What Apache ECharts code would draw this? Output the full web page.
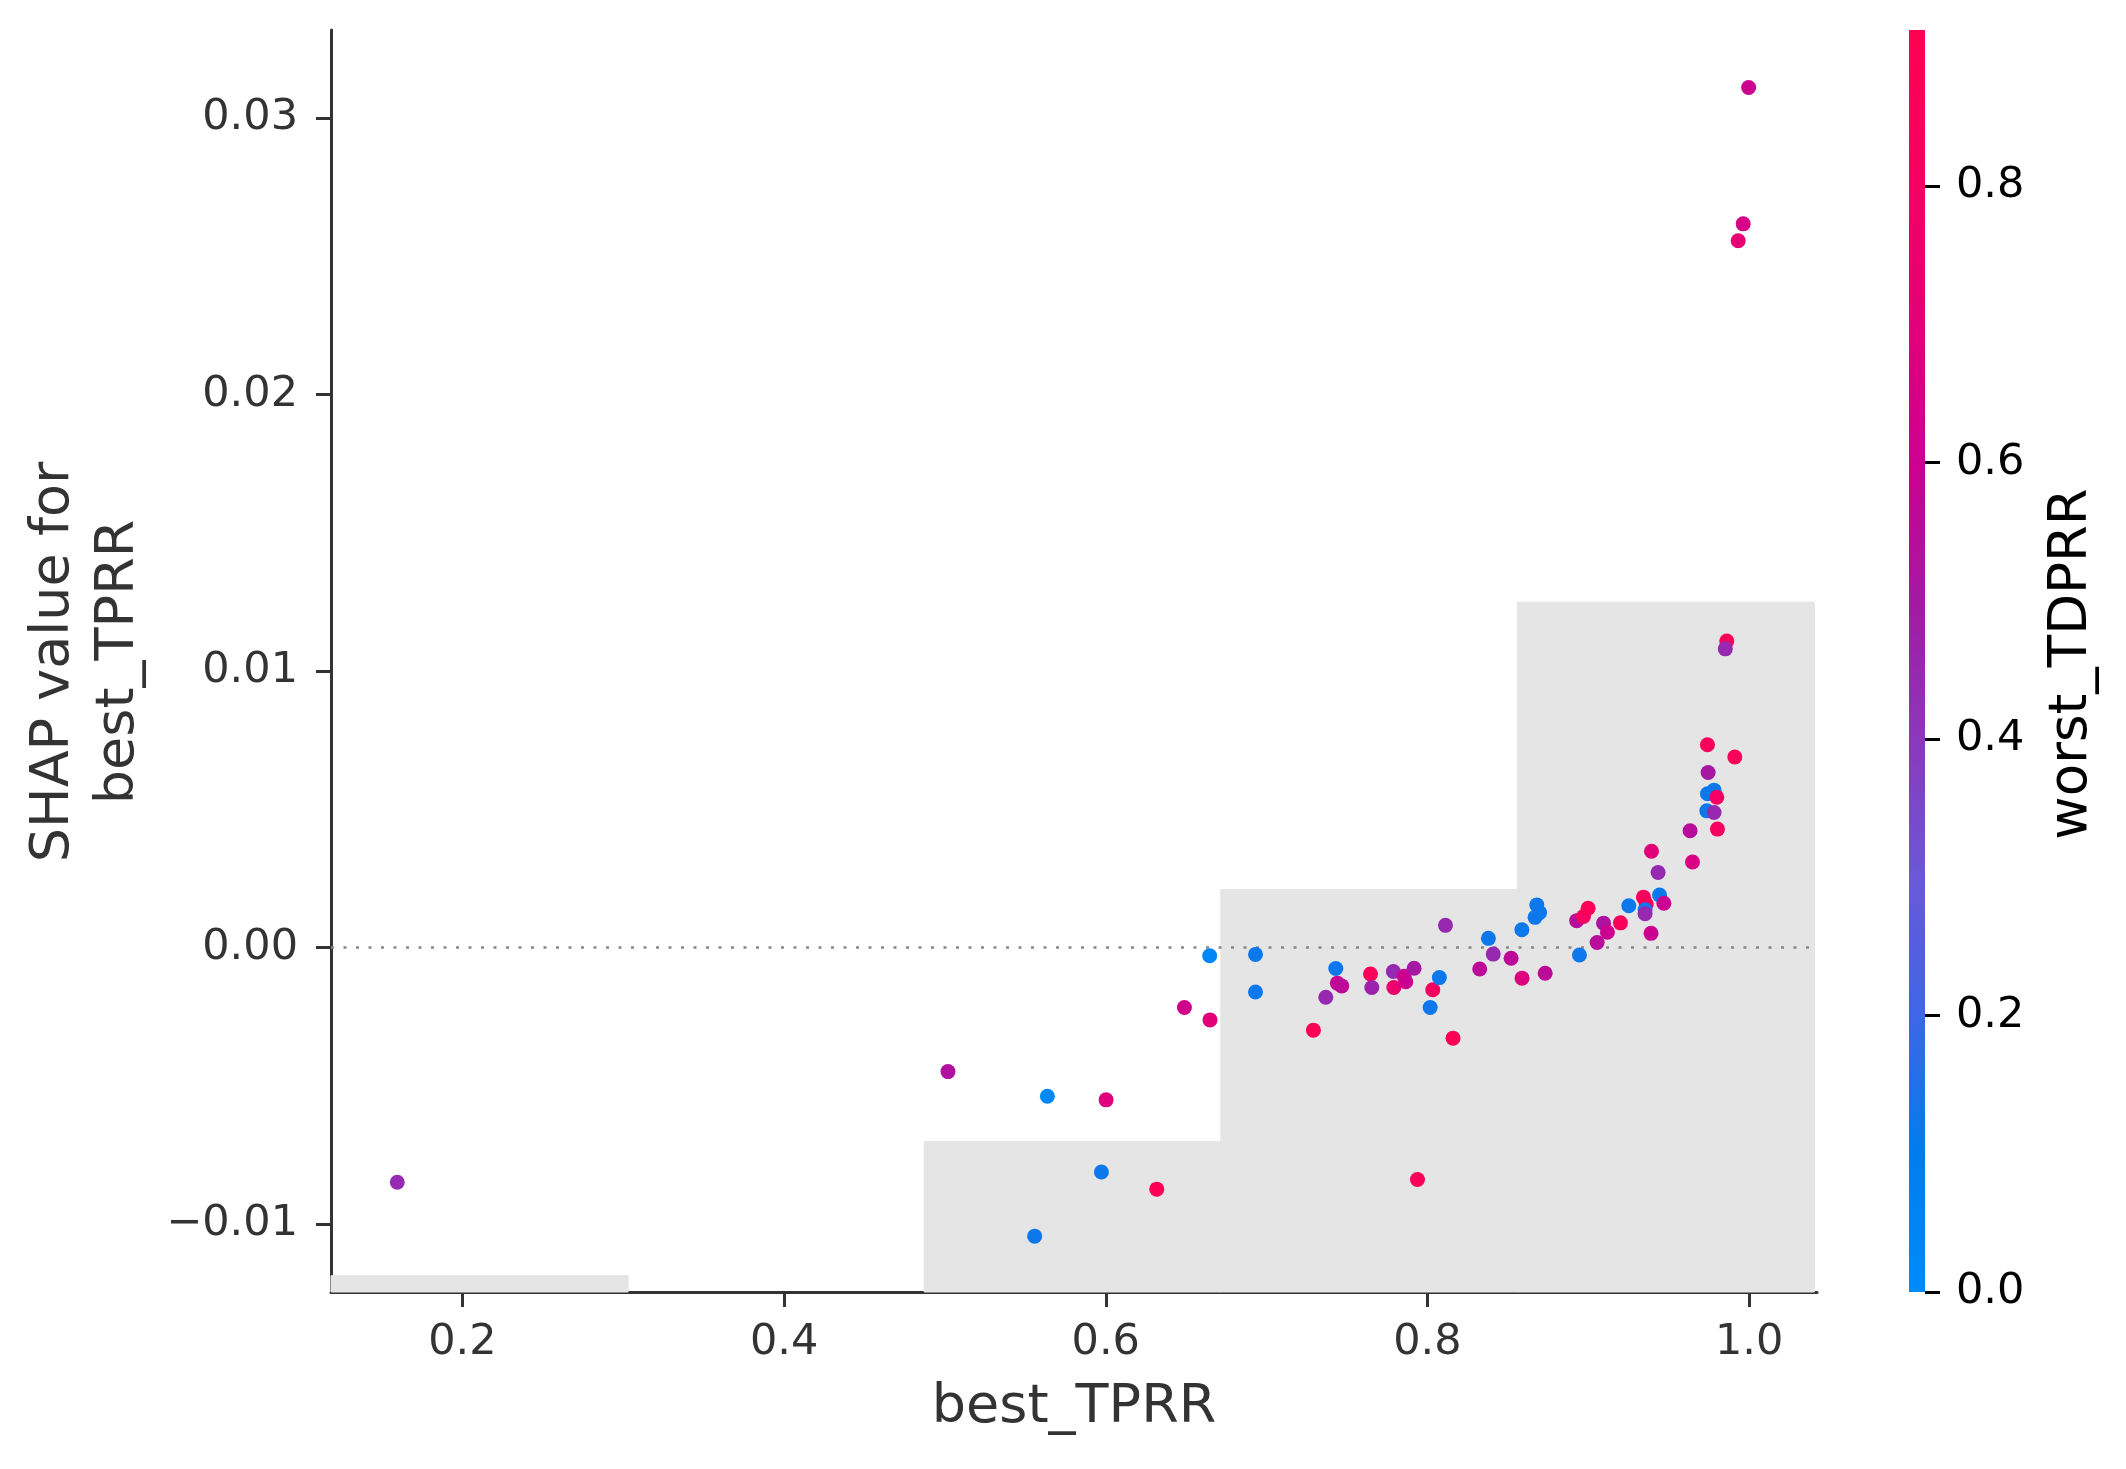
<!DOCTYPE html>
<html>
<head>
<meta charset="utf-8">
<script src="https://cdn.jsdelivr.net/npm/echarts@6.0.0/dist/echarts.min.js"></script>
<style>
  html, body { margin: 0; padding: 0; background: #fff; }
  #chart { width: 2126px; height: 1469px; }
</style>
</head>
<body>
<div id="chart"></div>
<script>
// feature values (x), shap values (y), interaction feature (colour)
var bestTPRR = [
  0.1595, 0.5019, 0.5637, 0.5558, 0.5973, 0.6002, 0.6317, 0.6489, 0.6648, 0.6646,
  0.6931, 0.6931, 0.7291, 0.7368, 0.7430, 0.7440, 0.7467, 0.7646, 0.7654, 0.7788,
  0.7791, 0.7865, 0.7855, 0.7917, 0.7938, 0.8017, 0.8033, 0.8074, 0.8112, 0.8159,
  0.8325, 0.8379, 0.8409, 0.8520, 0.8587, 0.8588, 0.8680, 0.8697, 0.8669, 0.8732,
  0.8928, 0.8945, 0.8970, 0.8999, 0.9055, 0.9095, 0.9119, 0.9200, 0.9252, 0.9343,
  0.9360, 0.9353, 0.9353, 0.9390, 0.9393, 0.9434, 0.9443, 0.9470, 0.9633, 0.9648,
  0.9741, 0.9745, 0.9741, 0.9782, 0.9799, 0.9737, 0.9782, 0.9803, 0.9861, 0.9852,
  0.9911, 0.9932, 0.9963, 0.9997
];
var shapVals = [
  -0.00848, -0.00448, -0.00537, -0.01043, -0.00811, -0.00550, -0.00873, -0.00216, -0.00261, -0.00029,
  -0.00024, -0.00160, -0.00298, -0.00179, -0.00075, -0.00128, -0.00138, -0.00095, -0.00144, -0.00086,
  -0.00144, -0.00123, -0.00103, -0.00074, -0.00838, -0.00216, -0.00152, -0.00108, 0.00081, -0.00327,
  -0.00077, 0.00034, -0.00023, -0.00038, 0.00065, -0.00110, 0.00155, 0.00127, 0.00110, -0.00092,
  0.00098, -0.00026, 0.00113, 0.00143, 0.00019, 0.00089, 0.00056, 0.00090, 0.00152, 0.00183,
  0.00158, 0.00137, 0.00123, 0.00052, 0.00349, 0.00272, 0.00191, 0.00161, 0.00423, 0.00310,
  0.00734, 0.00634, 0.00557, 0.00570, 0.00544, 0.00495, 0.00489, 0.00429, 0.01109, 0.01081,
  0.00690, 0.02557, 0.02618, 0.03111
];
var worstTDPRR = [
  0.44, 0.53, 0.02, 0.12, 0.12, 0.68, 0.88, 0.62, 0.70, 0.03,
  0.12, 0.12, 0.88, 0.45, 0.12, 0.58, 0.56, 0.85, 0.47, 0.45,
  0.75, 0.60, 0.60, 0.50, 0.85, 0.12, 0.82, 0.12, 0.45, 0.88,
  0.56, 0.12, 0.45, 0.56, 0.12, 0.68, 0.12, 0.12, 0.12, 0.56,
  0.55, 0.12, 0.82, 0.86, 0.55, 0.52, 0.60, 0.86, 0.12, 0.82,
  0.86, 0.12, 0.45, 0.60, 0.70, 0.45, 0.12, 0.60, 0.55, 0.66,
  0.85, 0.50, 0.12, 0.12, 0.80, 0.12, 0.45, 0.82, 0.86, 0.45,
  0.86, 0.72, 0.64, 0.60
];

// background histogram of best_TPRR (bin edges, bar tops in shap units)
var histEdges = [0.1183, 0.3027, 0.4871, 0.6715, 0.8559, 1.0403];
var histTops = [-0.01186, -0.01245, -0.00701, 0.00211, 0.0125];

var xTicks = [0.2, 0.4, 0.6, 0.8, 1.0];
var yTicks = [-0.01, 0.0, 0.01, 0.02, 0.03];
var cbTicks = [0.0, 0.2, 0.4, 0.6, 0.8];

var xMin = 0.1183, xMax = 1.0422;
var yMin = -0.01245, yMax = 0.03319;
var cbMax = 0.913;

// colormap stops at 0, 0.1, ... 0.9 (red_blue style)
var cmapVals = [0, 0.1, 0.2, 0.3, 0.4, 0.5, 0.6, 0.7, 0.8, 0.9];
var cmapColors = ['#008bfa', '#007ded', '#3e66e6', '#6a58d8', '#8a38bc',
                  '#a418a4', '#cc0090', '#e20078', '#f40062', '#ff0053'];

var font = 'DejaVu Sans';

var points = bestTPRR.map(function (x, i) { return [x, shapVals[i], worstTDPRR[i]]; });
var hist = histTops.map(function (t, i) { return [histEdges[i], histEdges[i + 1], t]; });

var gradStops = cmapVals.map(function (v, i) {
  return { offset: Math.min(v / cbMax, 1), color: cmapColors[i] };
});
gradStops.push({ offset: 1, color: '#ff0052' });

var chart = echarts.init(document.getElementById('chart'), null, { renderer: 'canvas' });

var option = {
  backgroundColor: '#ffffff',
  animation: false,
  grid: [
    { left: 331, right: 309, top: 30, bottom: 177, containLabel: false },
    { left: 1909, width: 16, top: 30, bottom: 177, containLabel: false }
  ],
  xAxis: [
    {
      type: 'value', gridIndex: 0, min: xMin, max: xMax,
      axisLine: { show: true, onZero: false, lineStyle: { color: '#333333', width: 3 } },
      axisTick: { show: true, length: 15, inside: false, customValues: xTicks, lineStyle: { color: '#333333', width: 3 } },
      axisLabel: {
        customValues: xTicks, margin: 29, color: '#333333', fontSize: 43, fontFamily: font,
        formatter: function (v) { return v.toFixed(1); }
      },
      splitLine: { show: false }
    },
    {
      type: 'category', gridIndex: 1, data: ['cb'],
      axisLine: { show: false }, axisTick: { show: false }, axisLabel: { show: false }, splitLine: { show: false }
    }
  ],
  yAxis: [
    {
      type: 'value', gridIndex: 0, min: yMin, max: yMax,
      axisLine: { show: true, onZero: false, lineStyle: { color: '#333333', width: 3 } },
      axisTick: { show: true, length: 15, inside: false, customValues: yTicks, lineStyle: { color: '#333333', width: 3 } },
      axisLabel: {
        customValues: yTicks, margin: 33, color: '#333333', fontSize: 43, fontFamily: font,
        formatter: function (v) {
          var s = Math.abs(v).toFixed(2);
          return v < -1e-9 ? '\u2212' + s : s;
        }
      },
      splitLine: { show: false }
    },
    {
      type: 'value', gridIndex: 1, min: 0, max: cbMax, position: 'right',
      axisLine: { show: false },
      axisTick: { show: true, length: 15, inside: false, customValues: cbTicks, lineStyle: { color: '#000000', width: 3 } },
      axisLabel: {
        customValues: cbTicks, margin: 31, color: '#000000', fontSize: 43, fontFamily: font,
        formatter: function (v) { return v.toFixed(1); }
      },
      splitLine: { show: false }
    }
  ],
  visualMap: {
    type: 'continuous', show: false, seriesIndex: 1, dimension: 2,
    min: 0, max: 0.9,
    inRange: { color: cmapColors }
  },
  series: [
    {
      type: 'custom', xAxisIndex: 0, yAxisIndex: 0, z: 1,
      data: hist,
      renderItem: function (params, api) {
        var p0 = api.coord([api.value(0), yMin]);
        var p1 = api.coord([api.value(1), api.value(2)]);
        var h = p0[1] - p1[1];
        if (h < 0.5) return null;
        return {
          type: 'rect',
          shape: { x: p0[0], y: p1[1], width: p1[0] - p0[0] + 0.5, height: h },
          style: { fill: '#e5e5e5', stroke: '#e5e5e5', lineWidth: 1 }
        };
      },
      silent: true
    },
    {
      type: 'scatter', xAxisIndex: 0, yAxisIndex: 0, z: 3,
      symbol: 'circle', symbolSize: 15,
      data: points,
      itemStyle: { opacity: 1 },
      markLine: {
        silent: true, symbol: 'none', z: 2,
        label: { show: false },
        lineStyle: { color: '#888888', width: 2.5, type: [3, 9.5] },
        data: [{ yAxis: 0 }]
      }
    },
    {
      type: 'bar', xAxisIndex: 1, yAxisIndex: 1, barWidth: '100%',
      data: [cbMax],
      itemStyle: { color: new echarts.graphic.LinearGradient(0, 1, 0, 0, gradStops) },
      silent: true
    }
  ],
  graphic: [
    {
      type: 'text', x: 1074, y: 1408,
      style: { text: 'best_TPRR', font: '54px "DejaVu Sans"', fill: '#333333', align: 'center', verticalAlign: 'middle' }
    },
    {
      type: 'text', x: 54, y: 662, rotation: Math.PI / 2,
      style: { text: 'SHAP value for', font: '54px "DejaVu Sans"', fill: '#333333', align: 'center', verticalAlign: 'middle' }
    },
    {
      type: 'text', x: 119, y: 662, rotation: Math.PI / 2,
      style: { text: 'best_TPRR', font: '54px "DejaVu Sans"', fill: '#333333', align: 'center', verticalAlign: 'middle' }
    },
    {
      type: 'text', x: 2072, y: 664, rotation: Math.PI / 2,
      style: { text: 'worst_TDPRR', font: '53px "DejaVu Sans"', fill: '#000000', align: 'center', verticalAlign: 'middle' }
    }
  ]
};

chart.setOption(option);
</script>
</body>
</html>
